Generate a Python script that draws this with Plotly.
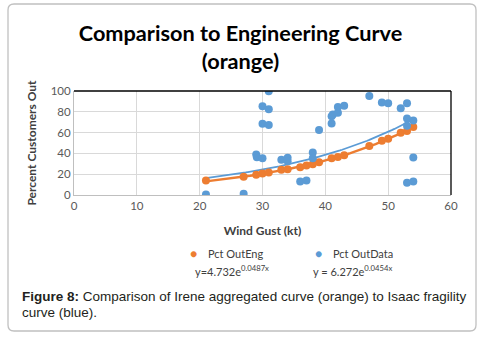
import plotly.graph_objects as go
import numpy as np

# ---- data ----
eng_x = [21, 27, 29, 30, 31, 33, 34, 36, 37, 38, 39, 41, 42, 43, 47, 49, 50, 52, 53, 54]
eng_y = [14.0, 17.5, 19.4, 20.7, 21.7, 24.2, 24.8, 26.8, 28.3, 29.6, 31.5, 35.4, 36.6, 38.2,
         47.1, 52.2, 54.1, 59.9, 61.5, 65.3]

data_x = [21, 27, 29, 29.1, 30, 30, 31, 31, 30, 31, 33, 34, 34, 36, 37, 38, 38, 39,
          41, 41, 41.2, 42, 42, 43, 47, 49, 50, 52, 53, 53, 53, 53, 54, 54, 54]
data_y = [0.6, 1.3, 38.9, 36.3, 35.4, 85.4, 82.5, 99.7, 68.5, 67.2, 33.8, 35.7, 32.5, 13.1,
          14.0, 40.8, 35.4, 62.4, 68.8, 75.8, 77.4, 84.7, 79.0, 85.7, 95.2, 88.9, 88.2, 83.4,
          88.2, 73.6, 66.6, 11.8, 71.7, 36.0, 13.1]

# trendline coefficients shown on the chart
eng_a, eng_b = 4.732, 0.0487
data_a, data_b = 6.272, 0.0454

x_ticks = [0, 10, 20, 30, 40, 50, 60]
y_ticks = [0, 20, 40, 60, 80, 100]

ORANGE = "#ED7D31"
BLUE = "#5B9BD5"

tx = np.linspace(min(eng_x), max(eng_x), 100)
tx2 = np.linspace(min(data_x), max(data_x), 100)

fig = go.Figure()
fig.add_trace(go.Scatter(x=tx2, y=data_a * np.exp(data_b * tx2), mode="lines",
                         line=dict(color=BLUE, width=1.8), showlegend=False, hoverinfo="skip"))
fig.add_trace(go.Scatter(x=tx, y=eng_a * np.exp(eng_b * tx), mode="lines",
                         line=dict(color=ORANGE, width=2.4), showlegend=False, hoverinfo="skip"))
fig.add_trace(go.Scatter(x=eng_x, y=eng_y, mode="markers", name="Pct OutEng",
                         marker=dict(color=ORANGE, size=8), showlegend=False))
fig.add_trace(go.Scatter(x=data_x, y=data_y, mode="markers", name="Pct OutData",
                         marker=dict(color=BLUE, size=8), showlegend=False))

W, H = 481, 337
L, R, T, B = 74, 30, 91, 142
pw, ph = W - L - R, H - T - B

def px(x):
    return (x - L) / pw

def py(y):
    return (H - B - y) / ph

def ann(text, x, y, anchor="left", size=11, color="#404040", family=None):
    f = dict(size=size, color=color)
    if family:
        f["family"] = family
    return dict(text=text, xref="paper", yref="paper", x=px(x), y=py(y), xanchor=anchor,
                yanchor="middle", showarrow=False, font=f)

cap_font = "Liberation Sans"
fig.update_layout(
    width=W, height=H,
    margin=dict(l=L, r=R, t=T, b=B),
    paper_bgcolor="white", plot_bgcolor="white",
    font=dict(family="Lato", color="#595959", size=11.5),
    title=dict(text="<b>Comparison to Engineering Curve<br>(orange)</b>",
               x=0.5, xanchor="center", y=1 - 41 / H, yanchor="middle",
               font=dict(family="Lato", size=21.7, color="black")),
    xaxis=dict(range=[0, 60], tickvals=x_ticks, showgrid=True, gridcolor="#d9d9d9",
               zeroline=False, showline=True, linecolor="#bfbfbf", ticks="",
               title=dict(text="<b>Wind Gust (kt)</b>", font=dict(size=12, color="#404040"),
                          standoff=15),
               fixedrange=True),
    yaxis=dict(range=[0, 100], tickvals=y_ticks, showgrid=True, gridcolor="#d9d9d9",
               zeroline=False, showline=True, linecolor="#bfbfbf", ticks="",
               title=dict(text="<b>Percent Customers Out</b>", font=dict(size=12, color="#404040"),
                          standoff=11),
               fixedrange=True),
    showlegend=False,
    shapes=[
        dict(type="line", xref="paper", yref="paper", x0=0, x1=1, y0=1, y1=1,
             line=dict(color="black", width=1.3)),
        dict(type="line", xref="paper", yref="paper", x0=1, x1=1, y0=0, y1=1,
             line=dict(color="black", width=1.3)),
        dict(type="path", xref="paper", yref="paper", layer="below",
             path=("M {a},{b} L {c},{b} Q {c2},{b} {c2},{b2} L {c2},{d} Q {c2},{d2} {c},{d2} "
                   "L {a},{d2} Q {a0},{d2} {a0},{d} L {a0},{b2} Q {a0},{b} {a},{b} Z").format(
                 a=px(14), c=px(470), a0=px(8), c2=px(476),
                 b=py(4), b2=py(10), d=py(325), d2=py(331)),
             line=dict(color="#c0c0c0", width=1.3)),
    ],
    annotations=[
        ann("●", 193, 253, "center", size=12, color=ORANGE),
        ann("Pct OutEng", 206, 253),
        ann("●", 318, 253, "center", size=12, color=BLUE),
        ann("Pct OutData", 331, 253),
        ann("y=4.732e<sup>0.0487x</sup>", 232, 270, "center"),
        ann("y = 6.272e<sup>0.0454x</sup>", 352, 270, "center"),
        ann("<b>Figure 8:</b> Comparison of Irene aggregated curve (orange) to Isaac fragility",
            20, 296, size=13.5, color="#231f20", family=cap_font),
        ann("curve (blue).", 20, 312, size=13.5, color="#231f20", family=cap_font),
    ],
)

fig.write_html("out.html", config={"displayModeBar": False},
               post_script="document.body.style.margin='0';document.body.style.overflow='hidden';")
